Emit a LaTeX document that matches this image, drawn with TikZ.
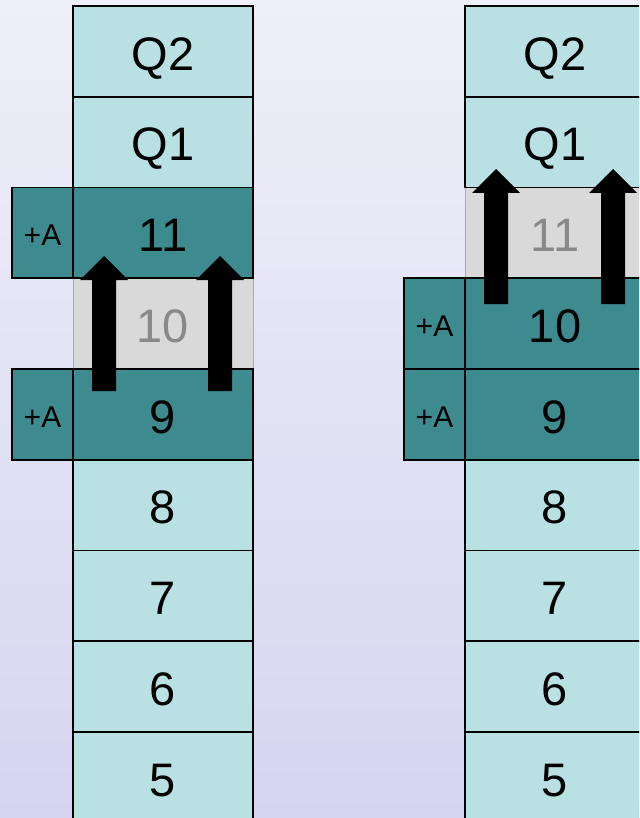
\documentclass[tikz,border=0pt]{standalone}
\usepackage{fontspec}
\setmainfont{Liberation Sans}
\definecolor{bgtop}{HTML}{EFEFF9}
\definecolor{bgbot}{HTML}{D5D5F0}
\definecolor{lightcell}{HTML}{B9E0E2}
\definecolor{darkcell}{HTML}{3D8A8F}
\definecolor{graycell}{HTML}{D9D9D9}
\definecolor{graytext}{HTML}{898989}
\definecolor{grayline}{HTML}{ABABAB}
\tikzset{
  cell/.style={draw=black, line width=1.8pt, minimum width=180pt, minimum height=90.75pt,
    inner sep=0pt, outer sep=0pt, anchor=north west, font=\fontsize{47}{47}\selectfont, text=black,
    text height=37.7pt, text depth=0pt},
  lightc/.style={cell, fill=lightcell},
  darkc/.style={cell, fill=darkcell},
  grayc/.style={cell, fill=graycell, draw=grayline, line width=1pt, text=graytext},
  plusa/.style={draw=black, line width=1.8pt, fill=darkcell, minimum width=61pt, minimum height=90.75pt,
    inner sep=0pt, outer sep=0pt, anchor=north west, font=\fontsize{30}{30}\selectfont, text=black,
    text height=25.5pt, text depth=0pt},
  blockarrow/.style={fill=black, draw=none}
}
\begin{document}
\begin{tikzpicture}[x=1pt,y=1pt]
\useasboundingbox (0,0) rectangle (639,-818);
\clip (0,0) rectangle (639,-818);
\shade[top color=bgtop, bottom color=bgbot] (0,0) rectangle (639,-818);
% left column
\node[grayc] (L10) at (73,-278.25) {10};
\node[lightc] (LQ2) at (73,-6) {Q2};
\node[lightc] (LQ1) at (73,-96.75) {Q1};
\node[darkc] (L11) at (73,-187.5) {11};
\node[darkc] (L9) at (73,-369) {9};
\node[lightc] (L8) at (73,-459.75) {8};
\node[lightc] (L7) at (73,-550.5) {7};
\node[lightc] (L6) at (73,-641.25) {6};
\node[lightc] (L5) at (73,-732) {5};
\node[plusa] (LA11) at (12,-187.5) {+A};
\node[plusa] (LA9) at (12,-369) {+A};
% right column
\node[grayc] (R11) at (465,-187.5) {11};
\node[lightc] (RQ2) at (465,-6) {Q2};
\node[lightc] (RQ1) at (465,-96.75) {Q1};
\node[darkc] (R10) at (465,-278.25) {10};
\node[darkc] (R9) at (465,-369) {9};
\node[lightc] (R8) at (465,-459.75) {8};
\node[lightc] (R7) at (465,-550.5) {7};
\node[lightc] (R6) at (465,-641.25) {6};
\node[lightc] (R5) at (465,-732) {5};
\node[plusa] (RA10) at (404,-278.25) {+A};
\node[plusa] (RA9) at (404,-369) {+A};
% block arrows
\fill[blockarrow] (92,-391) -- (92,-280) -- (80,-280) -- (104,-256) -- (128,-280) -- (116,-280) -- (116,-391) -- cycle;
\fill[blockarrow] (208,-391) -- (208,-280) -- (196,-280) -- (220,-256) -- (244,-280) -- (232,-280) -- (232,-391) -- cycle;
\fill[blockarrow] (484,-304) -- (484,-193) -- (472,-193) -- (496,-169) -- (520,-193) -- (508,-193) -- (508,-304) -- cycle;
\fill[blockarrow] (601,-304) -- (601,-193) -- (589,-193) -- (613,-169) -- (637,-193) -- (625,-193) -- (625,-304) -- cycle;
\end{tikzpicture}
\end{document}
